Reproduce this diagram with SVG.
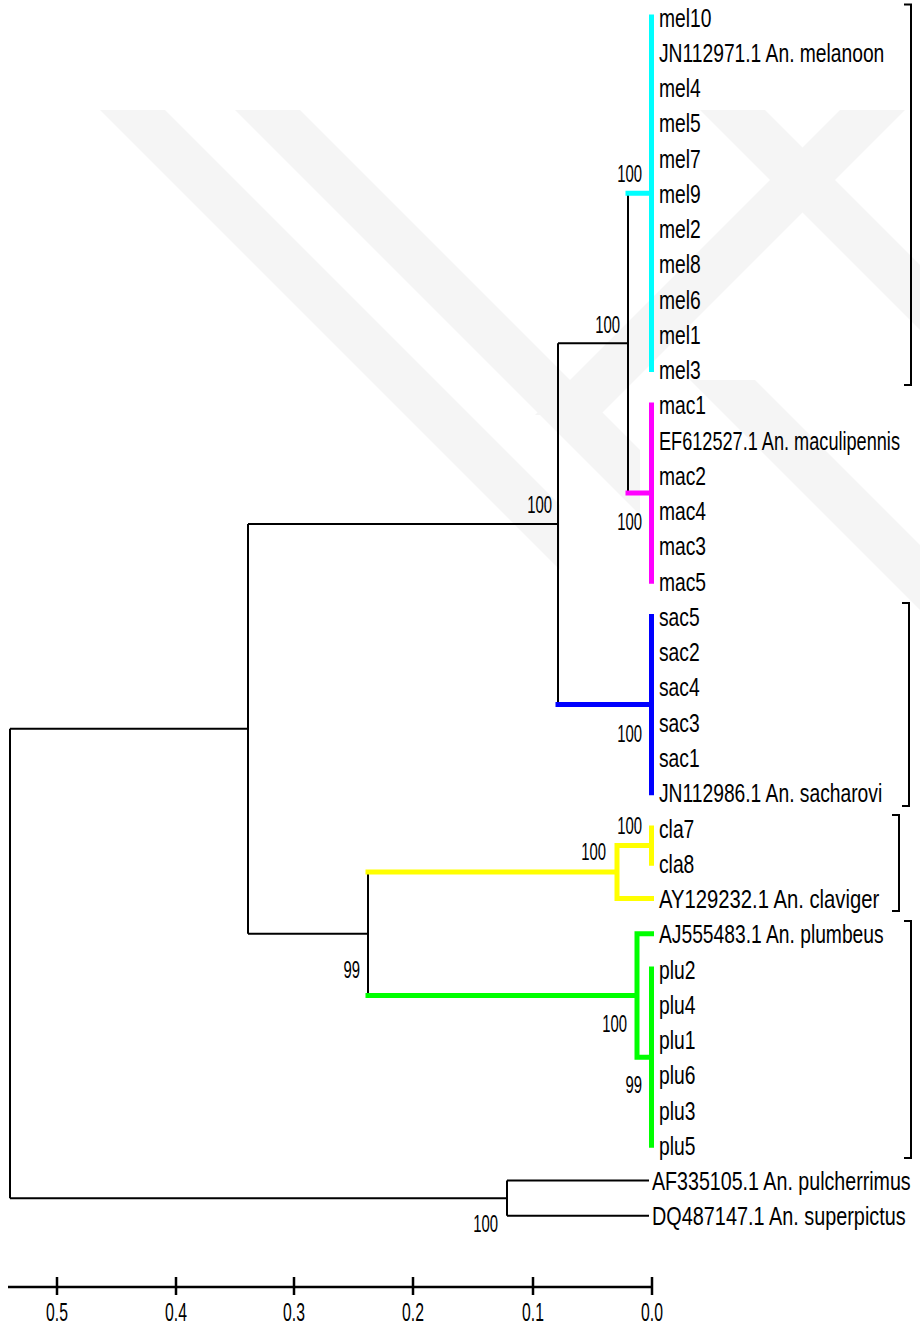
<svg xmlns="http://www.w3.org/2000/svg" width="920" height="1327" viewBox="0 0 920 1327">
<style>
.lbl{font-family:"Liberation Sans",Arial,sans-serif;font-size:25px;fill:#000}
.bs{font-family:"Liberation Sans",Arial,sans-serif;font-size:24px;fill:#000;text-anchor:end}
.ax{font-family:"Liberation Sans",Arial,sans-serif;font-size:25px;fill:#000;text-anchor:middle}
.k{stroke:#000;stroke-width:2;fill:none}
.c{stroke-width:5;fill:none;stroke-linecap:square}
.br{stroke:#000;stroke-width:2;fill:none}
.wm{fill:#f5f5f5}
</style>
<rect width="920" height="1327" fill="#fff"/>
<g id="watermark">
<polygon class="wm" points="100,110 165,110 560,505 560,570"/>
<polygon class="wm" points="235,110 300,110 640,450 640,515"/>
<polygon class="wm" points="840,110 905,110 600,415 535,415"/>
<polygon class="wm" points="700,110 765,110 920,265 920,330"/>
<polygon class="wm" points="690,380 755,380 920,545 920,610"/>
</g>
<g id="connectors">
<path class="k" d="M10,728.8V1198.2 M10,728.8H248 M10,1198.2H507"/>
<path class="k" d="M248,523.9V933.7 M248,523.9H558 M248,933.7H368"/>
<path class="k" d="M558,343.2V704.6 M558,343.2H628"/>
<path class="k" d="M628,193.3V493"/>
<path class="k" d="M368,872V995.5"/>
<path class="k" d="M507,1180.6V1215.8 M507,1180.6H649 M507,1215.8H649"/>
<path class="c" stroke="#00ffff" d="M628,193.3H651.5 M651.5,17V369.6"/>
<path class="c" stroke="#ff00ff" d="M628,493H651.5 M651.5,404.9V581.2"/>
<path class="c" stroke="#0000ff" d="M558,704.6H651.5 M651.5,616.4V792.7"/>
<path class="c" stroke="#ffff00" d="M368,872H617 M617,845.6V898.5 M617,845.6H651.5 M651.5,828V863.2 M617,898.5H651.5"/>
<path class="c" stroke="#00ff00" d="M368,995.5H637 M637,933.8V1057.2 M637,933.8H651.5 M637,1057.2H651.5 M651.5,969V1145.3"/>
</g>
<g id="brackets">
<path class="br" d="M904,4.5H911V385H904"/>
<path class="br" d="M902,603H909V806H902"/>
<path class="br" d="M892,815H899V911H892"/>
<path class="br" d="M904,921H911V1158H904"/>
</g>
<g id="leaves">
<text class="lbl" transform="translate(659,26.5) scale(0.77,1)">mel10</text>
<text class="lbl" transform="translate(659,61.8) scale(0.77,1)">JN112971.1 An. melanoon</text>
<text class="lbl" transform="translate(659,97) scale(0.77,1)">mel4</text>
<text class="lbl" transform="translate(659,132.3) scale(0.77,1)">mel5</text>
<text class="lbl" transform="translate(659,167.5) scale(0.77,1)">mel7</text>
<text class="lbl" transform="translate(659,202.8) scale(0.77,1)">mel9</text>
<text class="lbl" transform="translate(659,238.1) scale(0.77,1)">mel2</text>
<text class="lbl" transform="translate(659,273.3) scale(0.77,1)">mel8</text>
<text class="lbl" transform="translate(659,308.6) scale(0.77,1)">mel6</text>
<text class="lbl" transform="translate(659,343.8) scale(0.77,1)">mel1</text>
<text class="lbl" transform="translate(659,379.1) scale(0.77,1)">mel3</text>
<text class="lbl" transform="translate(659,414.4) scale(0.77,1)">mac1</text>
<text class="lbl" transform="translate(659,449.6) scale(0.726,1)">EF612527.1 An. maculipennis</text>
<text class="lbl" transform="translate(659,484.9) scale(0.77,1)">mac2</text>
<text class="lbl" transform="translate(659,520.1) scale(0.77,1)">mac4</text>
<text class="lbl" transform="translate(659,555.4) scale(0.77,1)">mac3</text>
<text class="lbl" transform="translate(659,590.7) scale(0.77,1)">mac5</text>
<text class="lbl" transform="translate(659,625.9) scale(0.77,1)">sac5</text>
<text class="lbl" transform="translate(659,661.2) scale(0.77,1)">sac2</text>
<text class="lbl" transform="translate(659,696.4) scale(0.77,1)">sac4</text>
<text class="lbl" transform="translate(659,731.7) scale(0.77,1)">sac3</text>
<text class="lbl" transform="translate(659,767) scale(0.77,1)">sac1</text>
<text class="lbl" transform="translate(659,802.2) scale(0.77,1)">JN112986.1 An. sacharovi</text>
<text class="lbl" transform="translate(659,837.5) scale(0.77,1)">cla7</text>
<text class="lbl" transform="translate(659,872.7) scale(0.77,1)">cla8</text>
<text class="lbl" transform="translate(659,908) scale(0.81,1)">AY129232.1 An. claviger</text>
<text class="lbl" transform="translate(659,943.3) scale(0.77,1)">AJ555483.1 An. plumbeus</text>
<text class="lbl" transform="translate(659,978.5) scale(0.77,1)">plu2</text>
<text class="lbl" transform="translate(659,1013.8) scale(0.77,1)">plu4</text>
<text class="lbl" transform="translate(659,1049) scale(0.77,1)">plu1</text>
<text class="lbl" transform="translate(659,1084.3) scale(0.77,1)">plu6</text>
<text class="lbl" transform="translate(659,1119.6) scale(0.77,1)">plu3</text>
<text class="lbl" transform="translate(659,1154.8) scale(0.77,1)">plu5</text>
<text class="lbl" transform="translate(652,1190.1) scale(0.786,1)">AF335105.1 An. pulcherrimus</text>
<text class="lbl" transform="translate(652,1225.3) scale(0.794,1)">DQ487147.1 An. superpictus</text>
</g>
<g id="bootstrap">
<text class="bs" transform="translate(642,182) scale(0.62,1)">100</text>
<text class="bs" transform="translate(620,333) scale(0.62,1)">100</text>
<text class="bs" transform="translate(552,513) scale(0.62,1)">100</text>
<text class="bs" transform="translate(642,530) scale(0.62,1)">100</text>
<text class="bs" transform="translate(642,742) scale(0.62,1)">100</text>
<text class="bs" transform="translate(642,834) scale(0.62,1)">100</text>
<text class="bs" transform="translate(606,860) scale(0.62,1)">100</text>
<text class="bs" transform="translate(360,978) scale(0.62,1)">99</text>
<text class="bs" transform="translate(627,1032) scale(0.62,1)">100</text>
<text class="bs" transform="translate(642,1093) scale(0.62,1)">99</text>
<text class="bs" transform="translate(498,1232) scale(0.62,1)">100</text>
</g>
<g id="scale">
<path stroke="#000" stroke-width="2.5" fill="none" d="M8,1287H652 M57,1277V1295 M176,1277V1295 M294,1277V1295 M413,1277V1295 M533,1277V1295 M652,1277V1295"/>
<text class="ax" transform="translate(57,1321) scale(0.63,1)">0.5</text>
<text class="ax" transform="translate(176,1321) scale(0.63,1)">0.4</text>
<text class="ax" transform="translate(294,1321) scale(0.63,1)">0.3</text>
<text class="ax" transform="translate(413,1321) scale(0.63,1)">0.2</text>
<text class="ax" transform="translate(533,1321) scale(0.63,1)">0.1</text>
<text class="ax" transform="translate(652,1321) scale(0.63,1)">0.0</text>
</g>
</svg>
